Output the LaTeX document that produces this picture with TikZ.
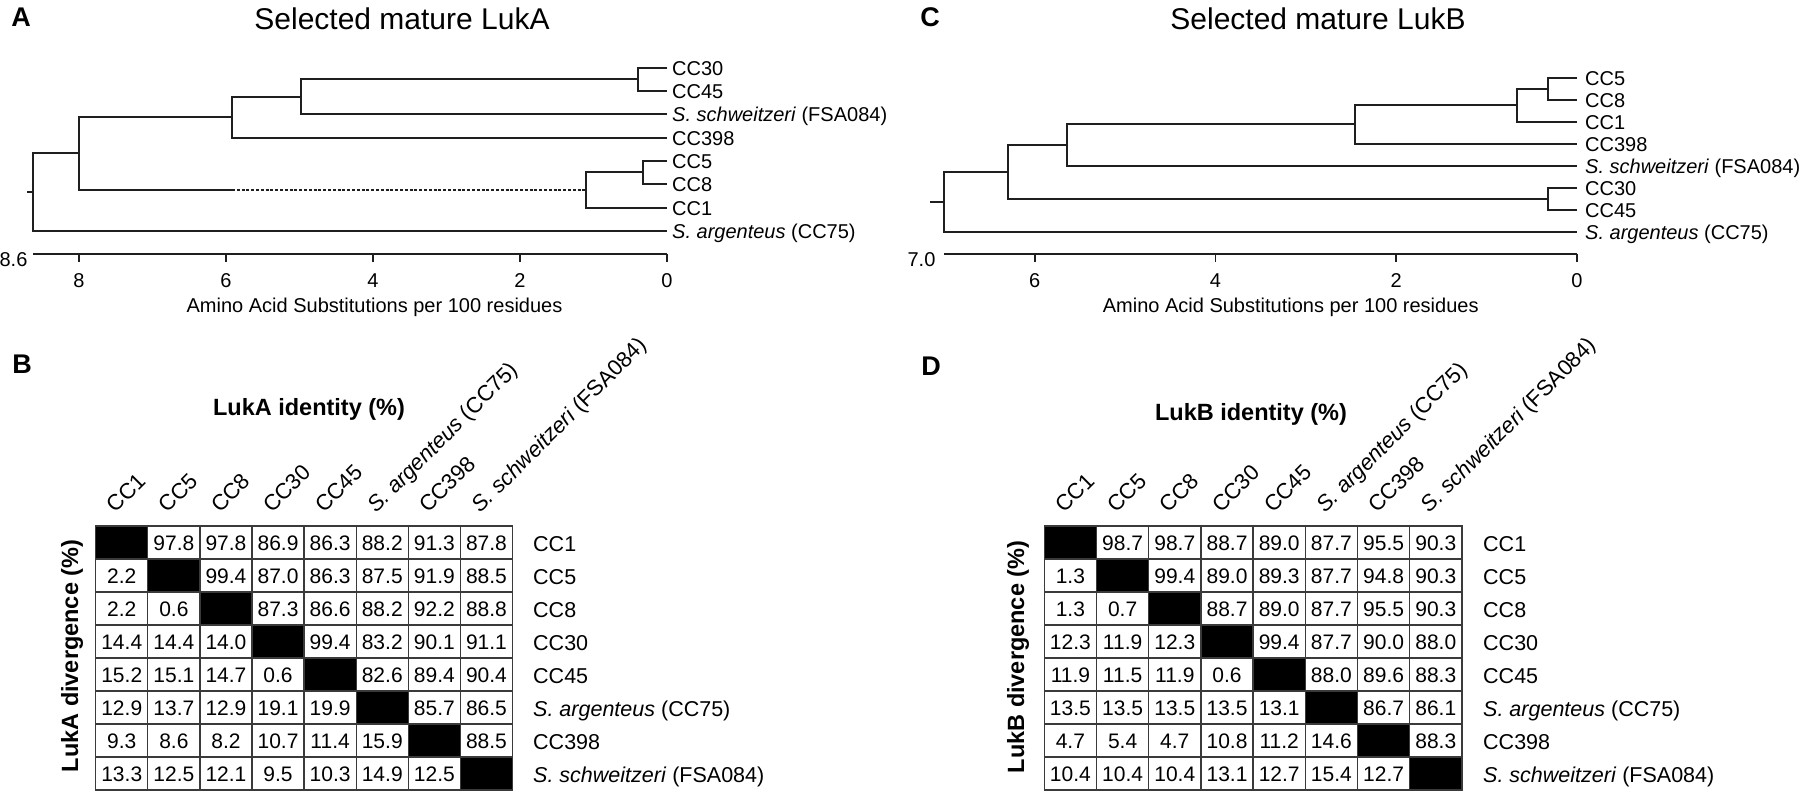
\documentclass[tikz,border=0pt]{standalone}
\usepackage{fontspec}
\setmainfont{Liberation Sans}

\definecolor{branchc}{HTML}{1F1F1F}
\definecolor{gridc}{HTML}{3A3A3A}
\newcommand{\fs}[1]{\fontsize{#1}{#1}\selectfont}
\newcommand{\strains}{CC1,CC5,CC8,CC30,CC45,{\textit{S. argenteus} (CC75)},CC398,{\textit{S. schweitzeri} (FSA084)}}

\begin{document}
\begin{tikzpicture}[x=1pt,y=-1pt,
    branch/.style={draw=branchc,line width=1.8pt},
    leaf/.style={anchor=base west,inner sep=0pt,xshift=5pt,yshift=-7.2pt,font=\fs{20}},
    ticklab/.style={anchor=base,inner sep=0pt,font=\fs{20}},
    panel/.style={inner sep=0pt,font=\fs{27}\bfseries},
    title/.style={anchor=base,inner sep=0pt,font=\fs{30}},
    cell/.style={draw=gridc,line width=1.3pt,minimum width=52.1pt,minimum height=33pt,inner sep=0pt,font=\fs{21},text height=15pt,text depth=0pt},
    diag/.style={cell,fill=black},
    rowlab/.style={anchor=base west,inner sep=0pt,font=\fs{21.5}},
    collab/.style={anchor=base west,inner sep=0pt,rotate=45,font=\fs{22}},
    head/.style={anchor=base,inner sep=0pt,font=\fs{23.5}\bfseries}]
  \useasboundingbox (0,0) rectangle (1800,791);

  % panel letters
  \node[panel] (pA) at (21,17) {A};
  \node[panel] (pB) at (22,364) {B};
  \node[panel] (pC) at (930,17) {C};
  \node[panel] (pD) at (931,366) {D};

  % tree A
  \node[title] (titA) at (402,30) {Selected mature LukA};
  \coordinate (a30) at (667,68);
  \coordinate (a45) at (667,91);
  \coordinate (asch) at (667,114);
  \coordinate (a398) at (667,138);
  \coordinate (a5) at (667,161);
  \coordinate (a8) at (667,184);
  \coordinate (a1) at (667,208);
  \coordinate (aarg) at (667,231);
  \coordinate (na3045) at (638,79);
  \coordinate (na5) at (301,97);
  \coordinate (na6) at (232,117);
  \coordinate (na58) at (643,172);
  \coordinate (na1) at (586,190);
  \coordinate (da) at (232,190);
  \coordinate (na8) at (79,153);
  \coordinate (rootA) at (33,192);
  \coordinate (stubA) at (27,192);
  \draw[branch] (a30) -| (na3045) |- (a45);
  \draw[branch] (na3045) -| (na5) |- (asch);
  \draw[branch] (na5) -| (na6) |- (a398);
  \draw[branch] (a5) -| (na58) |- (a8);
  \draw[branch] (na58) -| (na1) |- (a1);
  \draw[branch] (na6) -| (na8) |- (da);
  \draw[branch,line width=1.2pt,dash pattern=on 3pt off 1.8pt] (da) -- (na1);
  \draw[branch] (na8) -| (rootA) |- (aarg);
  \draw[branch] (rootA) -- (stubA);
  \foreach \c/\lab in {a30/CC30,a45/CC45,asch/{\textit{S. schweitzeri} (FSA084)},a398/CC398,
      a5/CC5,a8/CC8,a1/CC1,aarg/{\textit{S. argenteus} (CC75)}}
    \node[leaf] (l\c) at (\c) {\lab};

  \coordinate (axA0) at (33,254);
  \coordinate (axA1) at (667,254);
  \draw[branch] (axA0) -- (axA1);
  \foreach \t in {0,2,4,6,8}{
    \draw[branch] ({667-73.5*\t},254) -- ++(0,8);
    \node[ticklab] (ta\t) at ({667-73.5*\t},288) {\t};
  }
  \node[inner sep=0pt,font=\fs{20}] (maxA) at (13.5,260) {8.6};
  \node[ticklab] (axtitA) at (374.5,313) {Amino Acid Substitutions per 100 residues};

  % tree C
  \node[title] (titC) at (1318,30) {Selected mature LukB};
  \coordinate (c5) at (1577,78);
  \coordinate (c8) at (1577,100);
  \coordinate (c1) at (1577,122);
  \coordinate (c398) at (1577,144);
  \coordinate (csch) at (1577,166);
  \coordinate (c30) at (1577,188);
  \coordinate (c45) at (1577,210);
  \coordinate (carg) at (1577,232);
  \coordinate (nc58) at (1548,89);
  \coordinate (nc1) at (1517,105);
  \coordinate (nc398) at (1355,124);
  \coordinate (ncsch) at (1067,145);
  \coordinate (nc3045) at (1548,199);
  \coordinate (nc6) at (1008,172);
  \coordinate (rootC) at (944,202);
  \coordinate (stubC) at (930,202);
  \draw[branch] (c5) -| (nc58) |- (c8);
  \draw[branch] (nc58) -| (nc1) |- (c1);
  \draw[branch] (nc1) -| (nc398) |- (c398);
  \draw[branch] (nc398) -| (ncsch) |- (csch);
  \draw[branch] (ncsch) -| (nc6) |- (nc3045);
  \draw[branch] (c30) -| (nc3045) |- (c45);
  \draw[branch] (nc6) -| (rootC) |- (carg);
  \draw[branch] (rootC) -- (stubC);
  \foreach \c/\lab in {c5/CC5,c8/CC8,c1/CC1,c398/CC398,csch/{\textit{S. schweitzeri} (FSA084)},
      c30/CC30,c45/CC45,carg/{\textit{S. argenteus} (CC75)}}
    \node[leaf,xshift=3pt] (l\c) at (\c) {\lab};

  \coordinate (axC0) at (944,254);
  \coordinate (axC1) at (1577,254);
  \draw[branch] (axC0) -- (axC1);
  \foreach \t in {0,2,4,6}{
    \draw[branch] ({1577-90.4*\t},254) -- ++(0,8);
    \node[ticklab] (tc\t) at ({1577-90.4*\t},288) {\t};
  }
  \node[inner sep=0pt,font=\fs{20}] (maxC) at (921.5,260) {7.0};
  \node[ticklab] (axtitC) at (1290.7,313) {Amino Acid Substitutions per 100 residues};

  % matrix B
  \node[head] (idA) at (309,416) {LukA identity (\%)};
  \node[head,rotate=90] (dvA) at (78,656) {LukA divergence (\%)};
  \foreach \vals [count=\r] in {
      {x,97.8,97.8,86.9,86.3,88.2,91.3,87.8},
      {2.2,x,99.4,87.0,86.3,87.5,91.9,88.5},
      {2.2,0.6,x,87.3,86.6,88.2,92.2,88.8},
      {14.4,14.4,14.0,x,99.4,83.2,90.1,91.1},
      {15.2,15.1,14.7,0.6,x,82.6,89.4,90.4},
      {12.9,13.7,12.9,19.1,19.9,x,85.7,86.5},
      {9.3,8.6,8.2,10.7,11.4,15.9,x,88.5},
      {13.3,12.5,12.1,9.5,10.3,14.9,12.5,x}}{
    \foreach \v [count=\c] in \vals {
      \ifnum\r=\c
        \node[diag] (b\r-\c) at ({95.7+(\c-0.5)*52.1},{526+(\r-0.5)*33}) {};
      \else
        \node[cell] (b\r-\c) at ({95.7+(\c-0.5)*52.1},{526+(\r-0.5)*33}) {\v};
      \fi
    }
  }
  \foreach \lab [count=\r] in \strains {
    \node[rowlab] (br\r) at (533,{526+(\r-0.5)*33+8.5}) {\lab};
    \node[collab] (bc\r) at ({95.7+(\r-0.5)*52.1-6},514) {\lab};
  }

  % matrix D
  \node[head] (idB) at (1251,421) {LukB identity (\%)};
  \node[head,rotate=90] (dvB) at (1024,657) {LukB divergence (\%)};
  \foreach \vals [count=\r] in {
      {x,98.7,98.7,88.7,89.0,87.7,95.5,90.3},
      {1.3,x,99.4,89.0,89.3,87.7,94.8,90.3},
      {1.3,0.7,x,88.7,89.0,87.7,95.5,90.3},
      {12.3,11.9,12.3,x,99.4,87.7,90.0,88.0},
      {11.9,11.5,11.9,0.6,x,88.0,89.6,88.3},
      {13.5,13.5,13.5,13.5,13.1,x,86.7,86.1},
      {4.7,5.4,4.7,10.8,11.2,14.6,x,88.3},
      {10.4,10.4,10.4,13.1,12.7,15.4,12.7,x}}{
    \foreach \v [count=\c] in \vals {
      \ifnum\r=\c
        \node[diag] (d\r-\c) at ({1044.3+(\c-0.5)*52.2},{526+(\r-0.5)*33}) {};
      \else
        \node[cell,minimum width=52.2pt] (d\r-\c) at ({1044.3+(\c-0.5)*52.2},{526+(\r-0.5)*33}) {\v};
      \fi
    }
  }
  \foreach \lab [count=\r] in \strains {
    \node[rowlab] (dr\r) at (1483,{526+(\r-0.5)*33+8.5}) {\lab};
    \node[collab] (dc\r) at ({1044.3+(\r-0.5)*52.2-6},514) {\lab};
  }
\end{tikzpicture}
\end{document}
